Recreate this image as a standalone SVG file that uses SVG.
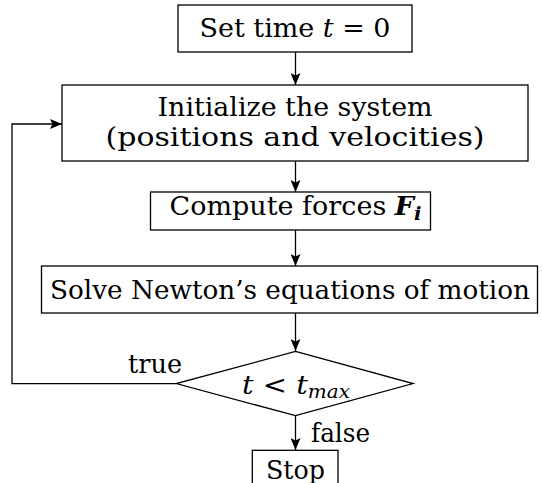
<svg xmlns="http://www.w3.org/2000/svg" width="542" height="483" viewBox="0 0 542 483">
<style>
.box{fill:#fff;stroke:#000;stroke-width:1.3}
.t{font-size:26px;fill:#000;text-anchor:middle}
.l{font-size:26px;fill:#000}
.i{font-style:italic}
.bi{font-style:italic;font-weight:bold}
.c{fill:none;stroke:#000;stroke-width:1.3}
</style>
<defs>
<marker id="ah" markerUnits="userSpaceOnUse" markerWidth="12" markerHeight="10" refX="12" refY="5" orient="auto">
<path d="M0,0 L12,5 L0,10 L2.5,5 z" fill="#000"/>
</marker>
</defs>
<g font-family="'DejaVu Serif', 'Liberation Serif', serif">
<g id="connectors">
<line class="c" x1="295.5" y1="52" x2="295.5" y2="85" marker-end="url(#ah)"/>
<line class="c" x1="295.5" y1="161" x2="295.5" y2="192" marker-end="url(#ah)"/>
<line class="c" x1="295.5" y1="230" x2="295.5" y2="266" marker-end="url(#ah)"/>
<line class="c" x1="295.5" y1="313" x2="295.5" y2="351" marker-end="url(#ah)"/>
<line class="c" x1="295.5" y1="416" x2="295.5" y2="450" marker-end="url(#ah)"/>
<polyline class="c" points="176,383.6 12,383.6 12,124 62,124" marker-end="url(#ah)"/>
<text class="l" x="128" y="373" textLength="54" lengthAdjust="spacingAndGlyphs">true</text>
<text class="l" x="311" y="442" textLength="59" lengthAdjust="spacingAndGlyphs">false</text>
</g>
<g id="n1">
<rect class="box" x="178" y="5" width="234" height="47"/>
<text class="t" x="295" y="37" textLength="191" lengthAdjust="spacingAndGlyphs">Set time <tspan class="i">t</tspan> = 0</text>
</g>
<g id="n2">
<rect class="box" x="62" y="85" width="466" height="76"/>
<text class="t" x="295" y="115.5" textLength="275" lengthAdjust="spacingAndGlyphs">Initialize the system</text>
<text class="t" x="295" y="145.5" textLength="379" lengthAdjust="spacingAndGlyphs">(positions and velocities)</text>
</g>
<g id="n3">
<rect class="box" x="150.5" y="192" width="280" height="38"/>
<text class="t" x="295.5" y="214.5" textLength="252" lengthAdjust="spacingAndGlyphs">Compute forces <tspan class="bi">F</tspan><tspan class="bi" font-size="19" dy="5">i</tspan></text>
</g>
<g id="n4">
<rect class="box" x="41.5" y="266" width="496" height="47"/>
<text class="t" x="290" y="299" textLength="480" lengthAdjust="spacingAndGlyphs">Solve Newton’s equations of motion</text>
</g>
<g id="n5">
<polygon class="box" points="295.5,351.4 413,383.6 295.5,415.7 176.3,383.6"/>
<text class="t" x="296" y="394" textLength="108" lengthAdjust="spacingAndGlyphs"><tspan class="i">t</tspan> &lt; <tspan class="i">t</tspan><tspan class="i" font-size="18" dy="4">max</tspan></text>
</g>
<g id="n6">
<rect class="box" x="252.3" y="450.3" width="85.7" height="36"/>
<text class="t" x="295.5" y="478.5" textLength="59" lengthAdjust="spacingAndGlyphs">Stop</text>
</g>
</g>
</svg>
